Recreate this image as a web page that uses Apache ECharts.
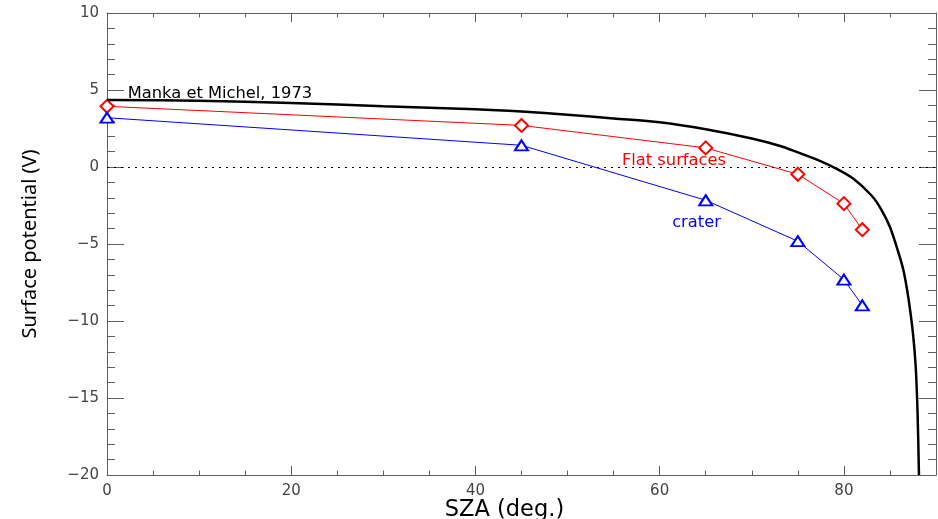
<!DOCTYPE html>
<html>
<head>
<meta charset="utf-8">
<script src="https://cdn.jsdelivr.net/npm/echarts@6/dist/echarts.min.js"></script>
<style>
  html, body { margin: 0; padding: 0; background: #fff; }
  #chart { width: 938px; height: 519px; }
</style>
</head>
<body>
<div id="chart"></div>
<script>
// Surface potential vs SZA: model curve plus flat-surface and crater runs
const mankaSza = [0, 10, 20, 30, 40, 45, 50, 55, 60, 65, 70, 73, 75, 77, 79, 81, 83, 84, 85, 86, 86.5, 87, 87.5, 87.8, 88, 88.15]
const mankaV = [4.35, 4.3, 4.15, 3.95, 3.75, 3.6, 3.4, 3.15, 2.9, 2.45, 1.85, 1.38, 0.95, 0.5, -0.05, -0.75, -1.85, -2.7, -3.9, -5.7, -6.8, -8.5, -10.8, -13, -16, -20]

const runSza = [0, 45, 65, 75, 80, 82]
const flatV = [3.94, 2.7, 1.24, -0.47, -2.38, -4.07]
const craterV = [3.2, 1.41, -2.16, -4.82, -7.31, -8.98]

const AXIS_COL = '#5f5f5f'
const TICK_FONT = { color: '#444', fontSize: 15, fontFamily: 'DejaVu Sans' }

const zip = (xs, ys) => xs.map((x, i) => [x, ys[i]])
const fmtTick = (v) => (v < 0 ? '\u2212' + Math.abs(v) : String(v))

const chart = echarts.init(document.getElementById('chart'))

// major and minor ticks each get their own axis so the 80..90 gap and the
// inward tick lengths come out like the original IDL frame
function xAxisDef(pos, interval, tickLen, withLabels) {
  return {
    type: 'value', position: pos, min: 0, max: 90, interval,
    axisLine: { show: interval === 20, onZero: false, lineStyle: { color: AXIS_COL, width: 1 } },
    axisTick: { show: true, inside: true, length: tickLen, lineStyle: { color: AXIS_COL } },
    axisLabel: withLabels
      ? { show: true, margin: 9, showMaxLabel: false, ...TICK_FONT }
      : { show: false },
    splitLine: { show: false },
  }
}

function yAxisDef(pos, interval, tickLen, withLabels) {
  return {
    type: 'value', position: pos, min: -20, max: 10, interval,
    axisLine: { show: interval === 5, onZero: false, lineStyle: { color: AXIS_COL, width: 1 } },
    axisTick: { show: true, inside: true, length: tickLen, lineStyle: { color: AXIS_COL } },
    axisLabel: withLabels ? { show: true, margin: 8, formatter: fmtTick, ...TICK_FONT } : { show: false },
    splitLine: { show: false },
  }
}

const xBottom = xAxisDef('bottom', 20, 9, true)
xBottom.name = 'SZA (deg.)'
xBottom.nameLocation = 'middle'
xBottom.nameGap = 24
xBottom.nameMoveOverlap = false
xBottom.nameTextStyle = { color: '#000', fontSize: 22.5, fontFamily: 'DejaVu Sans', padding: [0, 34, 0, 0] }

const yLeft = yAxisDef('left', 5, 17, true)
yLeft.name = 'Surface potential (V)'
yLeft.nameLocation = 'middle'
yLeft.nameGap = 67
yLeft.nameMoveOverlap = false
yLeft.nameTextStyle = { color: '#000', fontSize: 20, fontFamily: 'Noto Sans' }

function textMark(text, color, coord) {
  return {
    symbol: 'rect',
    symbolSize: 1,
    silent: true,
    itemStyle: { color: 'rgba(0,0,0,0)' },
    data: [{
      coord,
      label: { show: true, formatter: text, position: 'right', distance: 0, color, fontSize: 16.3, fontFamily: 'DejaVu Sans' },
    }],
  }
}

chart.setOption({
  animation: false,
  backgroundColor: '#fff',
  grid: { left: 107, right: 2, top: 13, bottom: 44, containLabel: false, outerBoundsMode: 'none' },
  xAxis: [
    xBottom,
    xAxisDef('bottom', 5, 4.5, false),
    xAxisDef('top', 20, 9, false),
    xAxisDef('top', 5, 4.5, false),
  ],
  yAxis: [
    yLeft,
    yAxisDef('left', 1, 8, false),
    yAxisDef('right', 5, 17, false),
    yAxisDef('right', 1, 8, false),
  ],
  series: [
    {
      name: 'Manka et Michel, 1973',
      type: 'line',
      data: zip(mankaSza, mankaV),
      smooth: 0.3,
      showSymbol: false,
      symbol: 'none',
      clip: true,
      lineStyle: { color: '#000', width: 2.5 },
      markLine: {
        silent: true,
        symbol: 'none',
        label: { show: false },
        lineStyle: { color: '#000', type: [2, 5], width: 1 },
        data: [{ yAxis: 0 }],
      },
      markPoint: textMark('Manka et Michel, 1973', '#000', [2.2, 4.78]),
      z: 3,
    },
    {
      name: 'Flat surfaces',
      type: 'line',
      data: zip(runSza, flatV),
      symbol: 'emptyDiamond',
      symbolSize: [13, 13],
      lineStyle: { color: '#ff0000', width: 1 },
      itemStyle: { color: '#ff0000', borderWidth: 1 },
      markPoint: textMark('Flat surfaces', '#ff0000', [55.85, 0.42]),
      clip: true,
      z: 2,
    },
    {
      name: 'crater',
      type: 'line',
      data: zip(runSza, craterV),
      symbol: 'emptyTriangle',
      symbolSize: [13, 10],
      lineStyle: { color: '#0000ff', width: 1 },
      itemStyle: { color: '#0000ff', borderWidth: 1 },
      markPoint: textMark('crater', '#0000ff', [61.3, -3.59]),
      clip: true,
      z: 2,
    },
  ],
})
</script>
</body>
</html>
